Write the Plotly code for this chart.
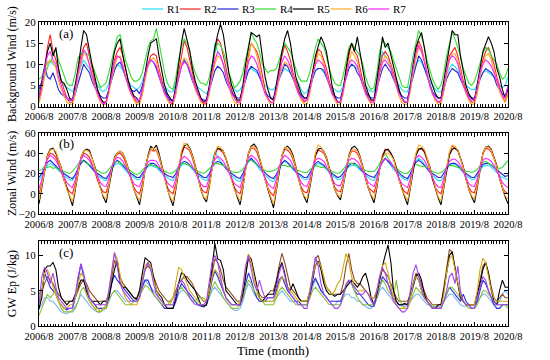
import pandas as pd
import plotly.graph_objects as go

# ---------------- data ----------------
series_names = ["R1", "R2", "R3", "R4", "R5", "R6", "R7"]
tick_years = list(range(2006, 2021))
tick_labels = [f"{y}/8" for y in tick_years]
months = pd.date_range("2006-08-01", periods=169, freq="MS")

# (a) Background wind (m/s), monthly Aug 2006 .. Aug 2020
bg_R1 = [3.5, 5, 7, 9, 11, 10, 9.5, 8, 6, 5, 4.5, 4,
         3.5, 5, 7.5, 9.5, 11, 10, 9, 7, 6, 5, 4, 3.5,
         4, 5.5, 7.5, 9, 10, 9.5, 8.5, 7, 6, 5, 4.5, 4,
         4.5, 6, 8, 10, 11, 10.5, 9, 7.5, 6, 5, 4, 3.5,
         3.5, 5.5, 8, 10, 11, 10, 8.5, 7, 5.5, 4.5, 4, 3.5,
         3, 4, 9, 15, 13, 12, 10, 8, 6, 5, 4, 3.5,
         4, 5, 7, 8.5, 9, 8.5, 8, 7, 6, 5, 4.5, 4,
         4, 5, 6.5, 8, 9, 8.5, 8, 7, 6, 5.5, 4, 3,
         3.5, 5, 7, 8.5, 9, 9, 8, 7, 5.5, 4.5, 4, 3.5,
         3.5, 5, 7.5, 9, 10, 9.5, 9, 8, 6, 5, 4, 3.5,
         3.5, 6, 10, 13, 12, 11, 9, 7, 6, 5, 4, 3.5,
         3.5, 5.5, 8, 10, 11, 10.5, 9, 7.5, 6, 5, 4, 3.5,
         3.5, 5, 7.5, 9, 10, 9.5, 8.5, 7.5, 6, 5, 4.5, 4,
         4, 5, 6.5, 8, 8.5, 8, 7.5, 7, 6, 5, 4.5, 5,
         7]
bg_R2 = [1, 4, 9, 14, 17, 13, 11, 9, 6, 4, 2, 1,
         1, 4, 9, 12, 14, 15, 12, 9, 6, 4, 2, 1,
         1, 3.5, 8, 11, 13, 14, 12, 9, 6, 4, 2, 1,
         1, 3, 7, 10, 12, 12.5, 12, 9, 6, 3.5, 2, 1,
         0.5, 3, 8, 12, 15.5, 14, 11, 8, 5, 3, 1.5, 0.5,
         1, 4, 9, 13, 16, 15, 12, 9, 6, 4, 2, 1,
         1, 4, 8, 12, 15, 14, 13, 11, 7, 4, 2, 1,
         1, 4, 8, 12, 14.5, 13, 11, 8, 6, 4, 2, 1,
         1.5, 4, 8, 11, 13.5, 13, 11, 9, 6, 4, 2, 1,
         1, 4, 8, 12, 15, 13, 12, 9, 6, 4, 2, 1,
         1, 4, 9, 12, 13, 12, 10, 8, 6, 4, 2, 1,
         1, 4, 9, 13, 15.5, 14, 11, 8, 5, 3, 1.5, 1,
         1, 4, 8, 12, 13, 14, 12, 9, 6, 4, 2, 1,
         1, 4, 8, 11, 13, 14, 12, 10, 7, 4.5, 2.5, 1,
         3]
bg_R3 = [4, 6, 9.5, 7, 6.5, 8, 6, 4, 3, 2.5, 2, 1.5,
         1.5, 3, 5.5, 8, 10, 9, 8, 6, 4.5, 3.5, 2.5, 2,
         2, 4, 6.5, 8.5, 10, 10.5, 9, 7, 5, 4, 3.5, 4,
         3, 5, 7.5, 9.5, 11, 10.5, 9, 7, 5, 4, 2.5, 1.5,
         1.5, 4, 7, 9.5, 11, 10, 8, 6, 4.5, 3, 2, 1.5,
         1.5, 4, 6.5, 8.5, 9.5, 9, 8, 6, 4.5, 3.5, 2.5, 2,
         2, 4, 6.5, 8.5, 9.5, 9, 8.5, 7, 5, 3.5, 2.5, 2,
         2, 4, 6.5, 8.5, 10, 9.5, 8, 6.5, 5, 3.5, 2.5, 2,
         2, 4, 6.5, 8.5, 9, 9, 8.5, 7, 5, 3.5, 2.5, 2,
         2, 4.5, 7, 9, 10, 9.5, 8, 7, 5, 3.5, 2.5, 2,
         2, 4.5, 7, 9, 10, 9, 8, 6.5, 5, 3.5, 2.5, 2,
         2, 4.5, 7.5, 10, 12, 11, 9, 7, 5, 3.5, 2.5, 2,
         2, 4, 6.5, 8, 9, 8.5, 8, 6.5, 5, 3.5, 2.5, 2,
         2, 4, 6.5, 8, 9, 8.5, 8, 7, 5, 4, 3, 2.5,
         4.5]
bg_R4 = [6.5, 7, 9, 10.5, 10.5, 12, 13.5, 11, 9, 7, 5.5, 5,
         5, 8, 11.5, 12.5, 13, 12.5, 12, 10, 8, 6, 4.5, 5,
         5.5, 8, 11, 14, 16.5, 17, 14, 11, 9, 7, 6, 6,
         6.5, 8, 11, 14, 15.5, 16, 18.5, 15, 11, 8, 5.5, 4.5,
         4, 7, 11, 14, 16, 15, 13, 10, 8, 6.5, 5.5, 5.5,
         5, 7, 10, 13, 15, 14.5, 13, 11, 8, 6, 4.5, 5,
         6, 8, 11, 14, 17.5, 16, 15, 13, 10, 9, 8, 8.5,
         8.5, 9, 11, 13.5, 15, 14, 13, 11, 9, 7, 6, 6,
         6, 8, 11, 14, 16, 15, 14, 12, 9, 7, 5.5, 5,
         5, 7.5, 11, 14, 15, 14, 13, 12, 10, 7, 5, 4,
         4.5, 8, 13, 15.5, 15, 14, 13, 11, 9, 7, 5, 4.5,
         4.5, 8, 12, 15, 18, 16.5, 14, 11, 8.5, 6.5, 5, 4,
         5, 8, 12, 15, 17.5, 16, 14, 12, 9, 7, 5.5, 5,
         6, 8, 10.5, 12.5, 14, 13.5, 12, 11, 10, 8, 6.5, 7,
         9]
bg_R5 = [2, 6, 10, 13, 15, 12, 14, 9, 6, 5.5, 4, 2,
         1.5, 5, 9, 14, 18, 17, 13, 10, 7, 4, 2, 1,
         1, 4, 9, 13, 15, 16, 12, 9, 6, 4, 2.5, 2,
         1, 4, 8, 12, 15, 15.5, 16, 12, 8, 5, 3, 2,
         1, 5, 10, 15, 18.5, 16, 13, 9, 6, 4, 2, 1,
         1.5, 5, 10, 14, 17, 19.5, 17, 12, 8, 5, 3, 1.5,
         1.5, 5, 10, 14, 17.5, 17, 16.5, 17, 12, 7, 4, 2,
         1.5, 5, 9, 13, 16, 18, 15, 11, 7, 5, 3, 2,
         2, 5, 8, 12, 14, 16.5, 15, 13, 9, 5, 2.5, 1,
         1, 4, 9, 13, 15, 13, 16.5, 13, 9, 5, 3, 1.5,
         1.5, 6, 11, 16.5, 14, 15, 12, 10, 7, 4, 2, 1,
         1, 5, 10, 14, 16, 17.5, 14, 10, 7, 5, 3, 2,
         2, 6, 10, 15, 18, 17, 17, 12, 8, 5, 3, 2,
         1.5, 5, 9, 13, 15, 16.5, 15, 13, 9, 7, 4, 2,
         4]
bg_R6 = [1, 3.5, 7, 10, 11, 10.5, 9, 6, 4, 2.5, 1, 0.5,
         0.5, 3, 7, 10, 12.5, 12, 10, 7, 4.5, 2.5, 1, 0.5,
         0.5, 3, 6.5, 9.5, 11.5, 12, 10, 7, 4.5, 3, 1.5, 0.5,
         0.5, 3, 6.5, 9.5, 11, 11.5, 10.5, 7.5, 5, 3, 1.5, 0.5,
         0.5, 3, 7, 10, 11.5, 11, 9, 6.5, 4, 2.5, 1, 0.5,
         0.5, 3, 7, 10, 12, 11.5, 10, 7, 4.5, 2.5, 1, 0.5,
         0.5, 3, 7, 11, 15, 14, 12, 9, 5.5, 3, 1.5, 0.5,
         0.5, 3, 6.5, 9, 10.5, 10, 9, 7, 4.5, 3, 1.5, 0.5,
         0.5, 3, 7, 10, 12.5, 12, 10, 7.5, 5, 3, 1.5, 0.5,
         0.5, 3, 7, 10.5, 13, 12, 10.5, 8, 5, 3, 1.5, 0.5,
         0.5, 3.5, 7.5, 10.5, 12, 11, 9.5, 7, 4.5, 2.5, 1, 0.5,
         0.5, 3.5, 8, 11.5, 14, 13, 11, 8, 5, 3, 1.5, 0.5,
         0.5, 3.5, 7.5, 11, 12.5, 12.5, 11, 8, 5, 3, 1.5, 0.5,
         0.5, 3, 7, 10, 12, 12.5, 11, 8.5, 6, 3.5, 2, 1,
         3]
bg_R7 = [2, 5, 9, 12, 13, 11, 10, 7, 5, 3, 2, 1.5,
         1.5, 4, 8, 11, 13.5, 12.5, 10, 7, 5, 3, 1.5, 0.5,
         1, 4, 7.5, 10.5, 12, 11.5, 9.5, 7, 5, 3, 2, 1.5,
         1.5, 4, 7.5, 10, 11, 10.5, 9.5, 7.5, 5, 3, 2, 1,
         1, 4, 7, 9.5, 10.5, 10, 8.5, 6.5, 4.5, 3, 1.5, 1,
         1, 4, 8, 11, 13, 12, 10, 7, 5, 3, 2, 1,
         1, 4, 7.5, 10.5, 12, 11.5, 10, 8, 5, 3, 2, 1,
         1, 4, 7.5, 10.5, 12, 11, 9.5, 7, 5, 3, 2, 1.5,
         1.5, 4, 7.5, 10, 11, 10.5, 9.5, 7.5, 5, 3, 2, 1,
         1, 4, 7.5, 10, 11, 10.5, 9.5, 7.5, 5, 3, 2, 1,
         1, 4, 8, 10.5, 11, 10, 9, 7, 5, 3, 2, 1,
         1, 4.5, 9, 12.5, 14.5, 13, 10.5, 7.5, 5, 3, 2, 1,
         1.5, 4.5, 8.5, 11, 12, 11.5, 10, 7.5, 5, 3.5, 2, 1.5,
         1.5, 4.5, 8, 10, 11, 10.5, 9.5, 8, 6, 4, 2.5, 2,
         5]

# (b) Zonal wind (m/s)
zw_R1 = [13, 18, 24, 28, 30, 28, 26, 23, 20, 18, 16, 14,
         13, 18, 25, 30, 33, 31, 28, 24, 21, 18, 16, 14,
         13, 17, 23, 28, 30, 29, 26, 23, 20, 18, 16, 14,
         14, 18, 23, 27, 28, 27, 26, 23, 20, 18, 16, 14,
         13, 17, 24, 28, 30, 29, 27, 24, 21, 18, 16, 14,
         13, 18, 30, 42, 36, 32, 28, 24, 21, 18, 15, 13,
         12, 17, 25, 32, 35, 32, 28, 24, 21, 18, 15, 13,
         12, 17, 24, 30, 32, 30, 27, 24, 21, 18, 16, 14,
         14, 18, 24, 28, 30, 29, 27, 24, 21, 18, 16, 14,
         14, 18, 23, 27, 28, 28, 26, 24, 21, 18, 16, 14,
         13, 18, 26, 32, 35, 32, 28, 24, 21, 18, 16, 14,
         13, 18, 26, 32, 35, 33, 29, 25, 21, 18, 15, 13,
         13, 17, 24, 28, 30, 29, 27, 24, 21, 18, 16, 14,
         14, 18, 23, 27, 28, 28, 26, 24, 21, 18, 16, 15,
         14]
zw_R2 = [0, 10, 25, 36, 40, 39, 36, 30, 22, 13, 6, 2,
         0, 10, 24, 35, 40, 39, 36, 30, 22, 13, 6, 2,
         1, 10, 24, 34, 39, 40, 37, 31, 23, 14, 6, 2,
         0, 10, 25, 36, 44, 42, 43, 36, 26, 15, 6, 2,
         0, 10, 26, 38, 46, 45, 42, 35, 25, 14, 6, 2,
         1, 11, 26, 38, 45, 43, 40, 34, 24, 14, 6, 2,
         0, 10, 26, 39, 45, 45, 41, 34, 25, 14, 6, 1,
         -2, 8, 24, 37, 44, 43, 40, 34, 25, 14, 6, 2,
         1, 10, 25, 37, 43, 42, 40, 34, 24, 13, 6, 3,
         2, 11, 25, 36, 42, 42, 40, 34, 25, 14, 6, 3,
         1, 11, 26, 38, 44, 43, 40, 34, 25, 14, 6, 2,
         0, 10, 26, 38, 44, 44, 41, 34, 25, 14, 6, 2,
         0, 10, 27, 40, 47, 45, 42, 35, 25, 14, 6, 2,
         1, 11, 27, 39, 45, 44, 41, 35, 26, 15, 6, 2,
         0]
zw_R3 = [16, 20, 26, 31, 33, 30, 27, 25, 22, 20, 18, 16,
         15, 19, 25, 30, 33, 31, 28, 25, 22, 20, 18, 16,
         15, 19, 25, 30, 33, 31, 28, 25, 22, 20, 18, 16,
         16, 20, 25, 28, 30, 30, 28, 25, 22, 20, 18, 17,
         16, 20, 26, 30, 32, 31, 28, 25, 22, 20, 18, 16,
         16, 20, 26, 30, 32, 31, 28, 25, 22, 20, 18, 16,
         15, 20, 27, 32, 35, 32, 29, 26, 23, 20, 18, 16,
         15, 19, 25, 30, 33, 31, 28, 25, 22, 20, 18, 16,
         16, 20, 25, 30, 32, 30, 28, 25, 22, 20, 18, 16,
         17, 21, 25, 28, 30, 30, 28, 25, 22, 20, 18, 17,
         16, 20, 26, 31, 35, 32, 29, 26, 23, 20, 18, 16,
         15, 20, 26, 31, 33, 31, 28, 25, 22, 20, 18, 16,
         16, 20, 25, 29, 30, 30, 28, 25, 22, 20, 18, 16,
         16, 20, 25, 29, 30, 30, 28, 26, 23, 21, 19, 17,
         18]
zw_R4 = [23, 24, 27, 26, 27, 25, 26, 24, 23, 22, 21, 20,
         22, 26, 30, 33, 32, 30, 29, 27, 25, 23, 21, 20,
         21, 24, 28, 31, 32, 30, 29, 27, 24, 22, 20, 19,
         20, 23, 26, 28, 29, 28, 27, 26, 24, 22, 21, 20,
         21, 23, 27, 30, 30, 29, 28, 26, 24, 22, 21, 20,
         22, 25, 28, 30, 30, 29, 28, 26, 24, 22, 21, 21,
         22, 24, 28, 32, 33, 31, 29, 27, 25, 23, 22, 22,
         23, 24, 27, 28, 28, 27, 27, 26, 24, 23, 22, 21,
         21, 24, 26, 28, 27, 26, 26, 25, 24, 22, 21, 20,
         21, 24, 28, 30, 30, 29, 28, 26, 24, 23, 22, 22,
         22, 25, 30, 35, 40, 35, 30, 27, 25, 23, 21, 20,
         20, 23, 27, 29, 28, 27, 27, 26, 24, 22, 21, 20,
         21, 23, 26, 28, 28, 27, 26, 25, 24, 22, 22, 21,
         22, 24, 28, 31, 32, 30, 28, 27, 26, 25, 26, 30,
         33]
zw_R5 = [-10, 6, 24, 38, 44, 45, 40, 34, 26, 15, 5, -4,
         -12, 4, 22, 36, 42, 44, 43, 36, 27, 16, 5, -3,
         -9, 6, 24, 36, 40, 42, 40, 34, 25, 14, 4, -3,
         -11, 5, 24, 38, 47, 44, 48, 40, 28, 15, 5, -4,
         -12, 4, 24, 40, 47, 49, 45, 38, 28, 15, 4, -4,
         -8, 7, 26, 40, 45, 44, 42, 35, 26, 14, 4, -3,
         -11, 5, 25, 40, 47, 49, 45, 36, 27, 15, 4, -5,
         -14, 3, 22, 38, 45, 47, 44, 38, 27, 14, 4, -3,
         -9, 6, 24, 38, 44, 45, 42, 36, 26, 14, 4, -2,
         -6, 8, 25, 38, 45, 47, 44, 37, 27, 15, 5, -2,
         -9, 6, 24, 36, 43, 44, 40, 35, 26, 14, 4, -3,
         -11, 5, 24, 38, 44, 45, 42, 35, 27, 15, 4, -4,
         -11, 5, 24, 38, 44, 45, 43, 36, 27, 15, 4, -3,
         -9, 6, 25, 40, 46, 47, 44, 37, 28, 15, 5, -3,
         -10]
zw_R6 = [-6, 8, 25, 37, 43, 44, 42, 34, 25, 14, 4, -2,
         -8, 6, 23, 36, 42, 43, 41, 35, 26, 15, 5, -2,
         -5, 8, 24, 35, 40, 42, 40, 34, 24, 14, 4, -2,
         -7, 6, 24, 37, 44, 45, 43, 38, 27, 14, 4, -3,
         -8, 6, 26, 42, 50, 48, 44, 37, 27, 14, 4, -3,
         -5, 8, 26, 40, 47, 46, 42, 35, 25, 13, 4, -2,
         -7, 6, 25, 40, 46, 47, 44, 36, 26, 14, 4, -3,
         -10, 4, 23, 38, 46, 45, 42, 36, 26, 14, 4, -2,
         -5, 8, 26, 40, 48, 46, 42, 35, 25, 13, 4, -1,
         -3, 9, 25, 37, 43, 44, 42, 36, 26, 14, 5, -1,
         -5, 8, 24, 35, 40, 40, 38, 34, 25, 14, 4, -2,
         -7, 7, 26, 40, 48, 47, 44, 36, 26, 14, 4, -3,
         -7, 7, 26, 41, 48, 47, 43, 35, 26, 14, 4, -2,
         -5, 8, 26, 40, 46, 46, 43, 36, 27, 15, 5, -2,
         -5]
zw_R7 = [5, 14, 26, 34, 38, 36, 33, 28, 22, 16, 11, 8,
         6, 14, 26, 34, 38, 36, 33, 28, 22, 16, 11, 8,
         7, 15, 26, 33, 36, 35, 32, 27, 21, 15, 10, 8,
         7, 15, 25, 31, 33, 33, 32, 28, 22, 16, 11, 8,
         6, 15, 27, 34, 37, 35, 32, 27, 21, 15, 10, 7,
         7, 16, 27, 34, 37, 35, 32, 27, 21, 15, 10, 8,
         6, 15, 27, 35, 38, 36, 33, 28, 22, 15, 10, 7,
         5, 14, 26, 34, 38, 36, 33, 28, 22, 16, 11, 8,
         7, 15, 26, 33, 35, 34, 32, 27, 21, 15, 10, 8,
         8, 16, 26, 33, 35, 34, 32, 28, 22, 16, 11, 9,
         7, 15, 26, 32, 34, 33, 31, 27, 21, 15, 10, 8,
         6, 15, 28, 35, 38, 36, 33, 28, 22, 15, 10, 7,
         6, 15, 26, 32, 34, 34, 32, 28, 22, 15, 10, 8,
         7, 15, 26, 33, 35, 34, 32, 28, 22, 16, 11, 8,
         6]

# (c) GW Ep (J/kg)
ep_R1 = [2.5, 3, 4, 4, 3.5, 3.5, 3, 2.5, 2, 1.8, 1.7, 2,
         2.2, 2.8, 3.5, 4.5, 4, 3.5, 3, 2.5, 2.2, 2, 2, 2.2,
         2.5, 3.5, 4.5, 5, 5, 4.5, 4, 3.5, 3.5, 3.5, 3.5, 4,
         5, 6, 6.5, 6, 5.5, 5, 4.5, 4, 3.5, 3, 3, 3,
         3, 3.5, 4.5, 5, 5, 4.5, 4, 3.5, 3.5, 3, 3, 3,
         3, 4, 5, 5.5, 5, 4.5, 4, 3.5, 3, 2.5, 2.2, 2.2,
         2.5, 3.5, 5, 6, 5.5, 4.5, 4, 3.5, 3.5, 3.5, 3.5, 3.5,
         3.5, 4, 4.5, 5, 4.5, 4, 3.5, 3.5, 3.5, 3, 3, 3,
         3, 4, 5.5, 6.5, 6, 5, 4.5, 4, 3.5, 3, 3, 3.5,
         3.5, 4, 4.5, 4.5, 4, 4, 3.5, 3.5, 3, 2.8, 2.5, 2.5,
         3, 4, 5, 5.5, 5, 4.5, 4, 3.5, 3, 3, 2.8, 2.8,
         2.8, 3.5, 4, 4.5, 4.5, 4, 3.5, 3, 3, 2.8, 2.8, 2.8,
         2.8, 3.5, 4, 4.5, 4.5, 4, 3.5, 3, 2.8, 2.8, 3, 3,
         3, 3.5, 4, 4.5, 4.5, 4, 3.5, 3, 3, 3.5, 4.5, 5,
         4.5]
ep_R2 = [4.5, 5, 6, 7, 6.5, 6, 5, 4.5, 4, 3.5, 3.5, 3.5,
         3.5, 4, 5, 6, 6.5, 6, 5, 4.5, 4, 3.5, 3.5, 3.5,
         3.5, 4.5, 7, 9.3, 8.5, 7, 6, 5.5, 5, 4.5, 4, 4,
         4.5, 6.5, 8, 8.5, 8, 7, 6, 5, 4.5, 4, 3.5, 3.5,
         4, 5, 6, 6.5, 7, 7, 6.5, 6, 5, 4.5, 4, 3.5,
         3.5, 5, 7.5, 9.5, 9, 8, 6.5, 5.5, 5, 4.5, 4, 3.5,
         3.5, 5, 7.5, 9.5, 9, 7, 5.5, 4.5, 4, 4, 4.5, 5,
         5, 6.5, 8.5, 10.3, 9, 7, 5.5, 5, 4.5, 4, 3.5, 3.5,
         3.5, 5, 7.5, 9.5, 10, 8.5, 6.5, 5.5, 5, 4.5, 4.5, 4.5,
         4.5, 6, 8.5, 10.3, 8, 6.5, 6, 6, 5.5, 5, 4.5, 4,
         4, 5, 6.5, 8, 7.5, 7, 6, 5, 4, 3.5, 3.5, 3.5,
         3.5, 4.5, 6, 7.5, 7, 6, 5, 4, 3.5, 3, 3, 3,
         3, 5.5, 8.5, 10.8, 10.5, 8, 6, 4.5, 3.5, 3, 3, 3,
         3, 4.5, 6.5, 8.5, 9, 7.5, 5.5, 4, 3.5, 4, 4.5, 4,
         4]
ep_R3 = [2.3, 5, 7.5, 6.5, 5.5, 5, 4.5, 3.5, 3, 2.5, 2.3, 2.5,
         2.5, 4, 6.5, 8.8, 7, 5, 4, 3.5, 3, 2.5, 2.5, 2.5,
         2.5, 4, 6, 7.2, 6.5, 6, 5.5, 5, 4.5, 4, 3.5, 3.5,
         4, 5.5, 6.5, 6.5, 5.5, 4.5, 4, 3.5, 3, 2.5, 2.5, 2.5,
         2.5, 3.5, 5, 6, 5.5, 5, 4.5, 4, 3.5, 3, 2.8, 2.7,
         3, 4.5, 6.5, 7.8, 7, 6, 5, 4, 3.5, 3, 3, 3,
         3, 4, 6, 7.5, 6.5, 5, 4, 3.5, 3.5, 3.5, 4, 4,
         4, 5, 6.5, 7, 6, 5, 4.5, 4, 3.5, 3.5, 3, 3,
         3, 4.5, 6, 6.8, 6, 5, 4.5, 4, 3.5, 3.5, 3.5, 3.5,
         3.5, 4.5, 5.5, 6.5, 6, 5, 4.5, 4.5, 4, 3.5, 3, 2.8,
         2.8, 4, 5.5, 7, 6.5, 6, 5, 4, 3.5, 3, 3, 3,
         3, 4, 5.5, 7, 6.5, 5, 4, 3.5, 3, 2.5, 2.5, 2.5,
         2.5, 3.5, 4.5, 5.5, 5, 4.5, 4, 3.5, 4.5, 3.5, 3, 2.5,
         2.5, 3.5, 5, 6.5, 6, 5, 4, 3, 2.5, 2.5, 3, 3,
         3]
ep_R4 = [1.5, 2.5, 3.5, 4.5, 4, 4.5, 5, 3.5, 2.5, 2, 2, 2,
         2, 2.5, 3.5, 5, 5.5, 4.5, 3.5, 3, 2.5, 2, 2, 2.5,
         2.5, 3.5, 4.5, 5, 4.5, 4, 3.5, 3, 3, 3, 3.5, 4,
         4.5, 5, 5.8, 5.5, 5, 4.5, 4, 3.5, 3, 3, 3, 3.5,
         4, 4.5, 5, 5.5, 5, 4.5, 4, 3.5, 3.5, 4, 4, 4,
         3.5, 4.5, 5.5, 6.3, 5.5, 5, 4, 3.5, 3, 2.5, 2.5, 2.5,
         3, 4, 5.5, 6.5, 6, 5, 4.5, 4, 3.5, 3, 3, 3,
         3, 4, 5, 5.5, 5, 4.5, 4, 3.5, 3, 3, 3, 3,
         3, 4, 5, 5.5, 5, 4.5, 4, 3.5, 3, 3, 3, 3,
         3, 4, 5.5, 6.5, 6, 5, 4, 3.5, 3, 3, 3, 3,
         3, 4, 5.5, 6.5, 6, 5, 4.5, 4, 6.5, 4, 3, 2.5,
         2.5, 3.5, 4.5, 5.5, 5, 4.5, 4, 3.5, 3, 3, 2.5, 2.5,
         2.5, 3.5, 4.5, 5.5, 5.5, 5, 4.5, 4, 3.5, 3, 2.5, 2.5,
         2.5, 3, 4, 5, 5, 4.5, 4, 3.5, 3, 3, 3, 3,
         2.5]
ep_R5 = [2.5, 4, 8, 8.5, 8.5, 9, 8, 5.5, 4, 3.5, 3, 3.5,
         3.5, 4.5, 5.5, 6.5, 6.5, 5, 4, 3.5, 3.5, 3.5, 3, 3.5,
         3.5, 4, 6, 8, 9.3, 6, 5.5, 5.5, 5, 4.5, 4, 3.8,
         5, 7.5, 9.7, 9.3, 9, 7, 5, 4.5, 4, 3, 2.5, 2.5,
         2.5, 4, 6, 7.5, 7.3, 6.5, 6, 5.5, 5, 4, 3, 2.8,
         3, 5, 8, 11.7, 9.5, 9.3, 8, 5, 4.5, 4, 3.5, 3,
         3, 4.5, 7, 10, 9.5, 7.5, 5.5, 4, 3.5, 4, 4.5, 4.5,
         4.5, 6, 8, 9, 7.5, 5.5, 5, 6, 5, 4, 3.5, 3.5,
         3.5, 4.5, 6.5, 8.5, 9.2, 8, 6, 5, 4.5, 4.5, 4.2, 4.5,
         4.5, 5, 5.5, 6, 6.5, 6, 5.5, 6, 7, 7.5, 6, 4,
         3, 4.5, 6.5, 8.5, 10, 11.5, 9, 5, 3.5, 3, 3, 3.2,
         3, 4.5, 6, 7, 7.5, 6.5, 4.5, 3.5, 3, 2.5, 2.5, 3,
         3, 5, 7.5, 10, 10.5, 8.5, 6, 4, 3.5, 3, 3, 3,
         3, 4.5, 6, 8, 9, 7.5, 5, 3.5, 3, 5, 6.5, 5.5,
         5.5]
ep_R6 = [3, 5, 7.5, 8, 7, 5.5, 4.5, 3.5, 3, 2.5, 2.5, 3,
         3, 4, 6, 7.5, 7, 5.5, 4, 3, 2.5, 2.5, 2, 2.5,
         3, 5, 8, 10.4, 9.5, 7, 5, 4, 3.5, 3, 3, 3,
         4, 6.5, 8.5, 9, 8.5, 6.5, 5, 4, 3.5, 3, 3, 3,
         4, 6.5, 8.3, 8, 7, 6, 5, 4.5, 4, 3.5, 3, 3,
         3.5, 5, 7, 8, 7.5, 6.5, 5, 4, 3.5, 3, 3, 3,
         3.5, 5.5, 8.5, 10.2, 9, 7, 5, 4, 3.5, 3.5, 3.5, 3.5,
         3.5, 4.5, 6, 7, 6.5, 5.5, 5, 4.5, 4, 3.5, 3.5, 3.5,
         3.5, 5, 7, 8.5, 9, 8.5, 7, 5.5, 5, 4.5, 5, 6,
         6.5, 8.5, 10.3, 9, 7, 5.5, 5, 5, 5, 5, 4.5, 4,
         4, 5, 7, 8.5, 9, 7.5, 5.5, 4, 3, 2.5, 2.5, 2.5,
         2.5, 4, 6, 7, 6.5, 5, 4, 3.5, 3, 2.5, 2.5, 2.5,
         2.5, 4.5, 7.5, 9.5, 10, 8, 6, 4.5, 3.5, 3, 3, 3,
         3, 5, 8, 9.6, 9, 7, 5, 4, 3.5, 3.5, 3.5, 3.5,
         3.5]
ep_R7 = [3, 7, 8.3, 7.5, 6, 7.5, 5.5, 4, 3.5, 3, 2.5, 2.5,
         2.5, 4.5, 7, 8.8, 7.5, 5.5, 4, 3.5, 3, 3, 3, 3,
         3, 5, 8, 10.4, 8.5, 6, 5, 4.5, 4, 3.5, 3.5, 3.5,
         4, 6, 8, 9, 8, 6, 4.5, 4, 3.5, 3, 3, 3,
         3, 4.5, 6, 6.5, 6, 5, 4, 3.5, 3, 3, 3, 3,
         3.5, 6, 9, 10, 9, 7, 5, 4, 3.5, 3, 3, 3,
         3, 5.5, 8.5, 10, 8, 6, 5, 6.5, 5, 4, 4, 4,
         4, 5.5, 7.5, 8.7, 7, 5.5, 4.5, 4, 3.5, 3, 3, 2.5,
         2.5, 4.5, 7, 9.8, 8.5, 6, 4.5, 4, 3.5, 3, 2.5, 2.5,
         3, 4.5, 6, 6.5, 6, 5.5, 5, 4.5, 4.5, 5, 4.5, 3.5,
         3, 5, 7, 8.3, 7.5, 6, 4.5, 3.5, 3, 2.5, 2, 2,
         2.5, 5, 7.5, 8.7, 7, 5.5, 4, 3.5, 3, 2.5, 2.5, 2.5,
         2.5, 3.5, 5, 7, 7.5, 6, 8.5, 5, 3.5, 3, 3, 2.5,
         2.5, 4, 5.5, 7, 6.5, 5, 4, 3.5, 3, 3, 3, 3,
         3]

bg_values = [bg_R1, bg_R2, bg_R3, bg_R4, bg_R5, bg_R6, bg_R7]
zw_values = [zw_R1, zw_R2, zw_R3, zw_R4, zw_R5, zw_R6, zw_R7]
ep_values = [ep_R1, ep_R2, ep_R3, ep_R4, ep_R5, ep_R6, ep_R7]

# ---------------- styling ----------------
colors_ab = ["#22e0ee", "#ff2222", "#2424dd", "#33dd33", "#000000", "#ffaa22", "#ff22ff"]
colors_c = ["#7ab4f0", "#8b4a1c", "#2a2ae0", "#88c03a", "#000000", "#d2aa10", "#a345ef"]
FONT = "Liberation Serif"

L, R, T, B = 39, 42, 22, 34
W, H = 550, 360
PW = W - L - R
PH = H - T - B


def py(px_from_top):
    return (H - B - px_from_top) / PH


def pxx(px):
    return (px - L) / PW


fig = go.Figure()

panels = [
    (bg_values, colors_ab, "x", "y"),
    (zw_values, colors_ab, "x2", "y2"),
    (ep_values, colors_c, "x3", "y3"),
]
for vals_list, cols, xa, ya in panels:
    for name, vals, col in zip(series_names, vals_list, cols):
        n = min(len(vals), len(months))
        fig.add_trace(go.Scatter(
            x=months[:n], y=vals[:n], mode="lines", name=name,
            line=dict(color=col, width=1.1), xaxis=xa, yaxis=ya,
            showlegend=False, hoverinfo="skip"))

tickvals = [pd.Timestamp(f"{y}-08-01") for y in tick_years]
xcommon = dict(
    type="date", range=[pd.Timestamp("2006-08-01"), pd.Timestamp("2020-08-01")],
    tickmode="array", tickvals=tickvals, ticktext=tick_labels,
    ticks="inside", ticklen=4, tickwidth=1, tickcolor="black",
    showline=True, linecolor="black", linewidth=1, mirror="allticks",
    showgrid=False, zeroline=False, ticklabelstandoff=0,
    tickfont=dict(family=FONT, size=10.5, color="black"),
    minor=dict(ticks="inside", ticklen=2.5, tickwidth=0.8, tickcolor="black",
               dtick="M1", tick0="2006-08-01", showgrid=False),
)
ycommon = dict(
    ticks="inside", ticklen=4, tickwidth=1, tickcolor="black",
    showline=True, linecolor="black", linewidth=1, mirror="allticks",
    showgrid=False, zeroline=False,
    tickfont=dict(family=FONT, size=11, color="black"),
)

dom_a = [py(106.5), 1.0]
dom_b = [py(214), py(133)]
dom_c = [0.0, py(241.3)]

fig.update_layout(
    width=W, height=H,
    margin=dict(l=L, r=R, t=T, b=B, pad=0),
    paper_bgcolor="white", plot_bgcolor="white",
    font=dict(family=FONT, color="black"),
    showlegend=False,
    xaxis=dict(**xcommon, domain=[0, 1], anchor="y"),
    xaxis2=dict(**xcommon, domain=[0, 1], anchor="y2"),
    xaxis3=dict(**xcommon, domain=[0, 1], anchor="y3"),
    yaxis=dict(**ycommon, domain=dom_a, anchor="x", range=[0, 20], tickvals=[0, 5, 10, 15, 20]),
    yaxis2=dict(**ycommon, domain=dom_b, anchor="x2", range=[-20, 60], tickvals=[-20, 0, 20, 40, 60]),
    yaxis3=dict(**ycommon, domain=dom_c, anchor="x3", range=[0, 12], tickvals=[0, 5, 10]),
)

ann = []
# y-axis titles
for text, ymid in [("Background Wind (m/s)", (22.7 + 106.5) / 2),
                   ("Zonal Wind (m/s)", (133 + 214) / 2),
                   ("GW Ep (J/kg)", (241.3 + 326) / 2)]:
    ann.append(dict(text=text, x=pxx(11.5), y=py(ymid), xref="paper", yref="paper",
                    textangle=-90, showarrow=False, xanchor="center", yanchor="middle",
                    font=dict(family=FONT, size=12, color="black")))
# panel labels
for text, ytop in [("(a)", 33), ("(b)", 143), ("(c)", 252)]:
    ann.append(dict(text=text, x=pxx(66), y=py(ytop), xref="paper", yref="paper",
                    showarrow=False, xanchor="center", yanchor="middle",
                    font=dict(family=FONT, size=13, color="black")))
# x title
ann.append(dict(text="Time (month)", x=pxx(273), y=py(350.5), xref="paper", yref="paper",
                showarrow=False, xanchor="center", yanchor="middle",
                font=dict(family=FONT, size=13, color="black")))

# legend (drawn manually for compact layout)
shapes = []
leg_y = py(9)
for i, (name, col) in enumerate(zip(series_names, colors_ab)):
    x0 = 142 + 37.7 * i
    shapes.append(dict(type="line", xref="paper", yref="paper",
                       x0=pxx(x0), x1=pxx(x0 + 21), y0=leg_y, y1=leg_y,
                       line=dict(color=col, width=1.2)))
    ann.append(dict(text=name, x=pxx(x0 + 22.5), y=leg_y, xref="paper", yref="paper",
                    showarrow=False, xanchor="left", yanchor="middle",
                    font=dict(family=FONT, size=11, color="black")))

fig.update_layout(annotations=ann, shapes=shapes)
fig.write_html("out.html", config={"displayModeBar": False},
               post_script="document.body.style.margin='0';document.body.style.overflow='hidden';")
